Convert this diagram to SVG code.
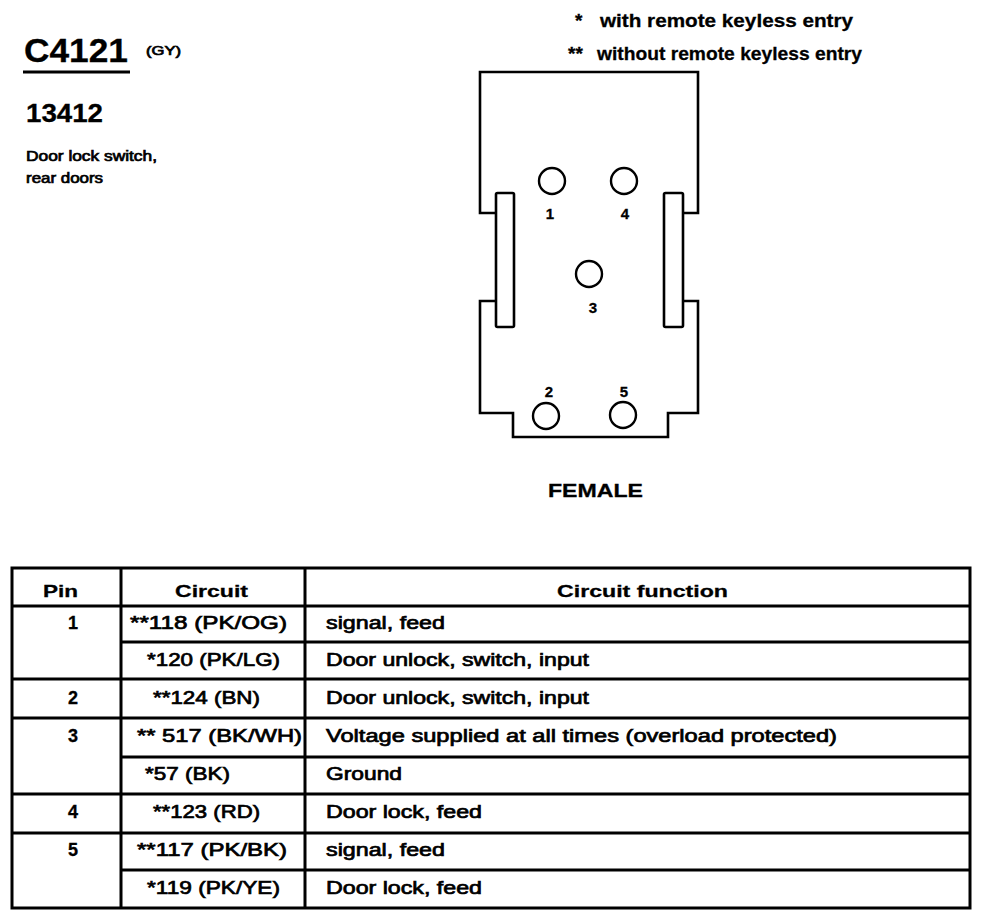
<svg xmlns="http://www.w3.org/2000/svg" width="982" height="919" viewBox="0 0 982 919">
<style>
text{font-family:"Liberation Sans",Arial,sans-serif;fill:#000}
.b{font-weight:bold;stroke:#000;stroke-width:0.3}
.r{stroke:#000;stroke-width:0.7}
.body{font-size:18px}
.ln{stroke:#000;stroke-width:3;fill:none}
.ol{stroke:#000;stroke-width:2.6;fill:none;stroke-linejoin:miter}
.pin{stroke:#000;stroke-width:2.4;fill:#fff}
.pl{font-size:15px;font-weight:bold;text-anchor:middle;stroke:#000;stroke-width:0.3}
</style>
<rect width="982" height="919" fill="#fff"/>
<g id="header">
<text class="b" x="24" y="62" font-size="33" textLength="104" lengthAdjust="spacingAndGlyphs">C4121</text>
<line x1="23" y1="72" x2="130" y2="72" stroke="#000" stroke-width="3"/>
<text class="r" x="146" y="55" font-size="12" textLength="35" lengthAdjust="spacingAndGlyphs">(GY)</text>
<text class="b" x="26" y="122" font-size="25" textLength="77" lengthAdjust="spacingAndGlyphs">13412</text>
<text class="r" x="26" y="161" font-size="14" textLength="131" lengthAdjust="spacingAndGlyphs">Door lock switch,</text>
<text class="r" x="26" y="183" font-size="14" textLength="77" lengthAdjust="spacingAndGlyphs">rear doors</text>
</g>
<g id="notes">
<text class="b" y="27" font-size="19"><tspan x="575">*</tspan><tspan x="600" textLength="253" lengthAdjust="spacingAndGlyphs">with remote keyless entry</tspan></text>
<text class="b" y="60" font-size="19"><tspan x="568">**</tspan><tspan x="597" textLength="265" lengthAdjust="spacingAndGlyphs">without remote keyless entry</tspan></text>
</g>
<g id="connector">
<path class="ol" d="M496,213 H480 V72 H698 V213 H683"/>
<path class="ol" d="M683,301 H698 V413 H668 V437 H513 V413 H480 V301 H496"/>
<rect class="ol" x="496" y="193" width="18" height="134" rx="1.5"/>
<rect class="ol" x="664" y="193" width="19" height="134" rx="1.5"/>
<circle class="pin" cx="552" cy="181" r="13"/>
<circle class="pin" cx="624" cy="181" r="13"/>
<circle class="pin" cx="589" cy="274" r="13"/>
<circle class="pin" cx="546" cy="416" r="13"/>
<circle class="pin" cx="623" cy="415" r="13"/>
<text class="pl" x="550" y="219">1</text>
<text class="pl" x="625" y="219">4</text>
<text class="pl" x="593" y="313">3</text>
<text class="pl" x="549" y="397">2</text>
<text class="pl" x="624" y="397">5</text>
<text class="b" x="548" y="497" font-size="18" textLength="95" lengthAdjust="spacingAndGlyphs">FEMALE</text>
</g>
<g id="table">
<g class="ln">
<rect x="12" y="568" width="958" height="340"/>
<line x1="121" y1="568" x2="121" y2="908"/>
<line x1="305" y1="568" x2="305" y2="908"/>
<line x1="12" y1="606" x2="970" y2="606"/>
<line x1="121" y1="642" x2="970" y2="642"/>
<line x1="12" y1="679" x2="970" y2="679"/>
<line x1="12" y1="718" x2="970" y2="718"/>
<line x1="121" y1="757" x2="970" y2="757"/>
<line x1="12" y1="794" x2="970" y2="794"/>
<line x1="12" y1="833" x2="970" y2="833"/>
<line x1="121" y1="870" x2="970" y2="870"/>
</g>
<g class="b" font-size="17">
<text x="43" y="597" textLength="35" lengthAdjust="spacingAndGlyphs">Pin</text>
<text x="175" y="597" textLength="73" lengthAdjust="spacingAndGlyphs">Circuit</text>
<text x="557" y="597" textLength="171" lengthAdjust="spacingAndGlyphs">Circuit function</text>
</g>
<g class="b" font-size="18" text-anchor="middle">
<text x="73" y="629">1</text>
<text x="73" y="704">2</text>
<text x="73" y="742">3</text>
<text x="73" y="818">4</text>
<text x="73" y="856">5</text>
</g>
<g class="r body">
<text x="130" y="629" textLength="157" lengthAdjust="spacingAndGlyphs">**118 (PK/OG)</text>
<text x="147" y="666" textLength="133" lengthAdjust="spacingAndGlyphs">*120 (PK/LG)</text>
<text x="153" y="704" textLength="107" lengthAdjust="spacingAndGlyphs">**124 (BN)</text>
<text x="137" y="742" textLength="165" lengthAdjust="spacingAndGlyphs">** 517 (BK/WH)</text>
<text x="145" y="780" textLength="85" lengthAdjust="spacingAndGlyphs">*57 (BK)</text>
<text x="153" y="818" textLength="107" lengthAdjust="spacingAndGlyphs">**123 (RD)</text>
<text x="137" y="856" textLength="150" lengthAdjust="spacingAndGlyphs">**117 (PK/BK)</text>
<text x="147" y="894" textLength="133" lengthAdjust="spacingAndGlyphs">*119 (PK/YE)</text>
<text x="326" y="629" textLength="119" lengthAdjust="spacingAndGlyphs">signal, feed</text>
<text x="326" y="666" textLength="263" lengthAdjust="spacingAndGlyphs">Door unlock, switch, input</text>
<text x="326" y="704" textLength="263" lengthAdjust="spacingAndGlyphs">Door unlock, switch, input</text>
<text x="326" y="742" textLength="511" lengthAdjust="spacingAndGlyphs">Voltage supplied at all times (overload protected)</text>
<text x="326" y="780" textLength="76" lengthAdjust="spacingAndGlyphs">Ground</text>
<text x="326" y="818" textLength="156" lengthAdjust="spacingAndGlyphs">Door lock, feed</text>
<text x="326" y="856" textLength="119" lengthAdjust="spacingAndGlyphs">signal, feed</text>
<text x="326" y="894" textLength="156" lengthAdjust="spacingAndGlyphs">Door lock, feed</text>
</g>
</g>
</svg>
